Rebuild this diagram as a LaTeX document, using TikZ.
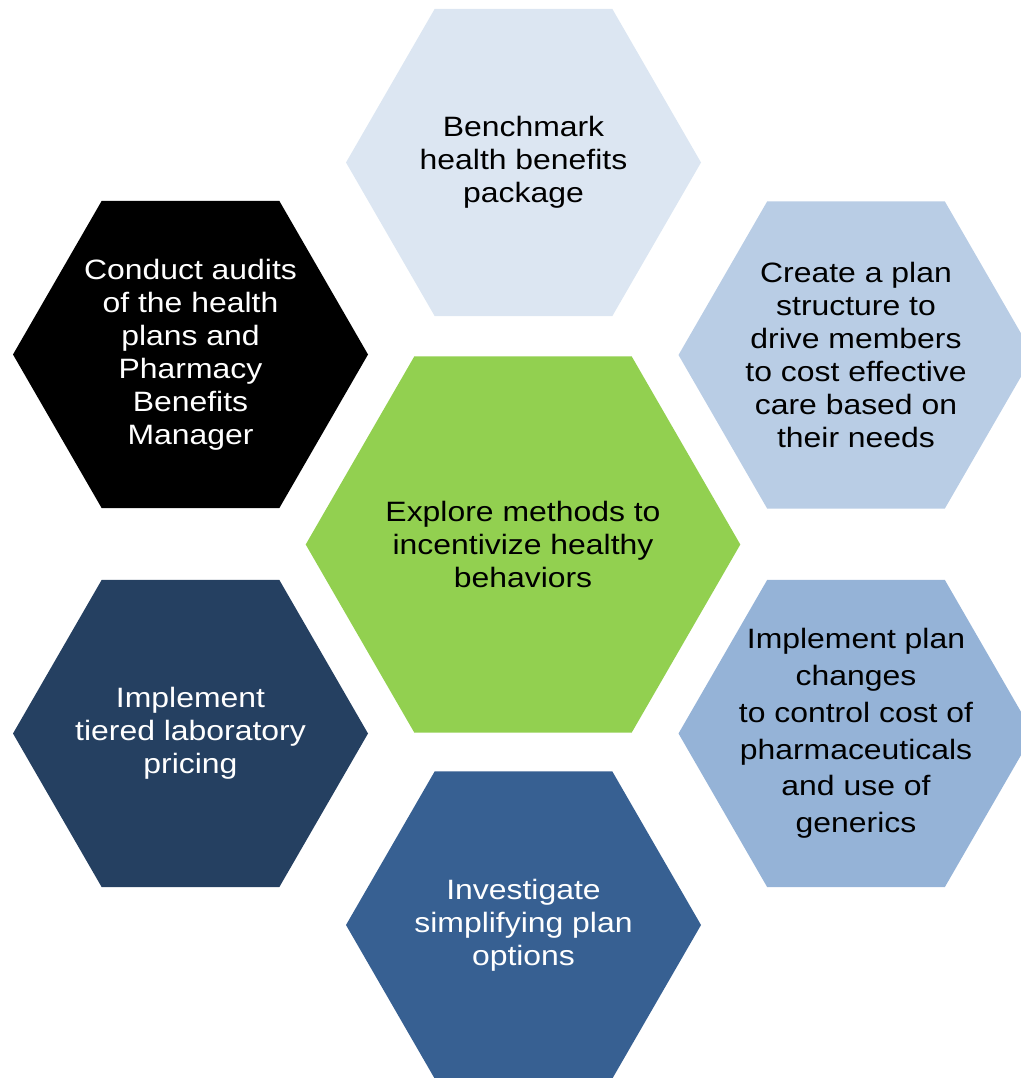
\documentclass[tikz,border=0pt]{standalone}
\usepackage{fontspec}
\setmainfont{Liberation Sans}[FakeStretch=1.14]
\usetikzlibrary{shapes.geometric}
\definecolor{paleblue}{HTML}{DCE6F2}
\definecolor{lightblue}{HTML}{B9CDE5}
\definecolor{midblue}{HTML}{95B3D7}
\definecolor{deepblue}{HTML}{376092}
\definecolor{navy}{HTML}{254061}
\definecolor{leaf}{HTML}{92D050}
\tikzset{
    hex/.style={regular polygon, regular polygon sides=6, draw=none, inner sep=0pt, outer sep=0pt, minimum size=355pt},
    bighex/.style={hex, minimum size=434.6pt},
    celltext/.style={align=center, inner sep=0pt, font=\fontsize{28}{33}\selectfont},
}

\begin{document}
\begin{tikzpicture}[x=1pt,y=-1pt]
    \useasboundingbox (0,0) rectangle (1020,1078);
    % hexagons
    \node[hex, fill=paleblue] (bench) at (523.5,162.5) {};
    \node[hex, fill=black] (audit) at (190.5,354.5) {};
    \node[hex, fill=lightblue] (plan) at (856,355) {};
    \node[bighex, fill=leaf] (explore) at (523,544.5) {};
    \node[hex, fill=navy] (tier) at (190.5,733.5) {};
    \node[hex, fill=midblue] (pharma) at (856,733.5) {};
    \node[hex, fill=deepblue] (simple) at (523.5,925) {};

    % texts
    \node[celltext] (bench-t) at (bench) {Benchmark\\health benefits\\package};
    \node[celltext, text=white] (audit-t) at (audit) {Conduct audits\\of the health\\plans and\\Pharmacy\\Benefits\\Manager};
    \node[celltext] (plan-t) at (plan) {Create a plan\\structure to\\drive members\\to cost effective\\care based on\\their needs};
    \node[celltext] (explore-t) at (explore) {Explore methods to\\incentivize healthy\\behaviors};
    \node[celltext, text=white] (tier-t) at (tier) {Implement\\tiered laboratory\\pricing};
    \node[celltext, font=\fontsize{28}{36.8}\selectfont] (pharma-t) at (pharma) {Implement plan\\changes\\to control cost of\\pharmaceuticals\\and use of\\generics};
    \node[celltext, text=white] (simple-t) at (simple) {Investigate\\simplifying plan\\options};
\end{tikzpicture}
\end{document}
